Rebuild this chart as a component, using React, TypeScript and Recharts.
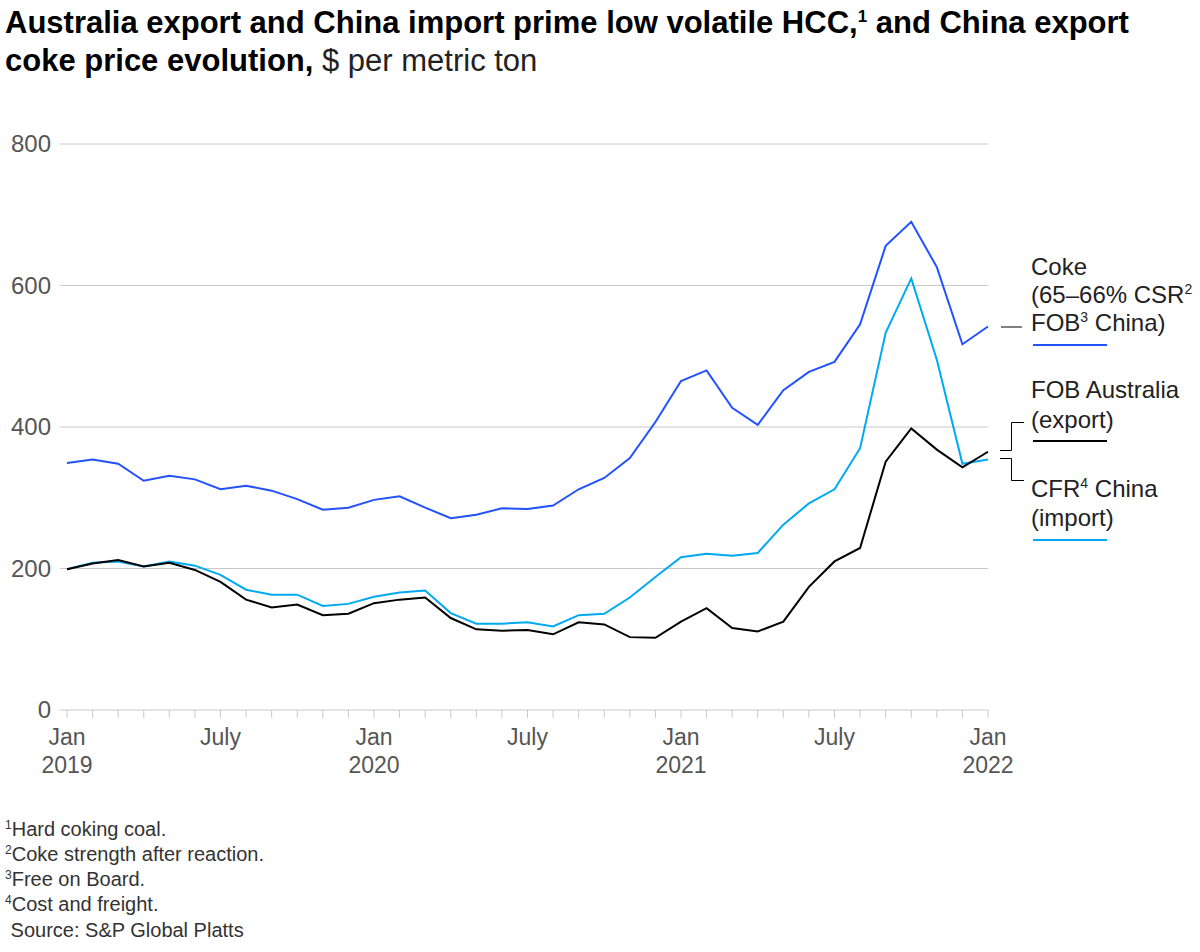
import React from "react";
import { LineChart, Line, XAxis, YAxis, ReferenceLine } from "recharts";

const months = [
  "Jan 2019", "Feb 2019", "Mar 2019", "Apr 2019", "May 2019", "Jun 2019", "Jul 2019", "Aug 2019", "Sep 2019", "Oct 2019", "Nov 2019", "Dec 2019",
  "Jan 2020", "Feb 2020", "Mar 2020", "Apr 2020", "May 2020", "Jun 2020", "Jul 2020", "Aug 2020", "Sep 2020", "Oct 2020", "Nov 2020", "Dec 2020",
  "Jan 2021", "Feb 2021", "Mar 2021", "Apr 2021", "May 2021", "Jun 2021", "Jul 2021", "Aug 2021", "Sep 2021", "Oct 2021", "Nov 2021", "Dec 2021",
  "Jan 2022",
];

const cokeFobChina = [
  349, 354, 348, 324, 331, 326, 312, 317, 310, 298, 283, 286,
  297, 302, 286, 271, 276, 285, 284, 289, 312, 328, 356, 407,
  465, 480, 427, 403, 452, 478, 492, 545, 656, 690, 626, 517,
  542,
];

const fobAustralia = [
  199, 207, 212, 203, 208, 198, 181, 156, 145, 149, 134, 136,
  151, 156, 159, 130, 114, 112, 113, 107, 124, 121, 103, 102,
  125, 144, 116, 111, 125, 174, 210, 229, 351, 398, 368, 343,
  365,
];

const cfrChina = [
  199, 208, 210, 203, 210, 204, 191, 170, 163, 163, 147, 150,
  160, 166, 169, 137, 122, 122, 124, 118, 134, 136, 159, 188,
  216, 221, 218, 222, 262, 292, 312, 370, 533, 610, 495, 348,
  354,
];

const yTicks = [0, 200, 400, 600, 800];

const tickMonths = ["Jan 2019", "Jul 2019", "Jan 2020", "Jul 2020", "Jan 2021", "Jul 2021", "Jan 2022"];
const tickLine1 = ["Jan", "July", "Jan", "July", "Jan", "July", "Jan"];
const tickLine2 = ["2019", "", "2020", "", "2021", "", "2022"];

const data = months.map((m, i) => ({
  month: m,
  coke: cokeFobChina[i],
  fob: fobAustralia[i],
  cfr: cfrChina[i],
}));

const FONT = "'Liberation Sans', Arial, Helvetica, sans-serif";
const BLUE = "#2251FF";
const CYAN = "#00A9F4";
const BLACK = "#000000";
const GRID = "#c8c8c8";
const AXIS_TEXT = "#555555";

const XTick = (props: any) => {
  const { x, y, payload } = props;
  const idx = tickMonths.indexOf(payload.value);
  if (idx < 0) return null;
  return (
    <g>
      <text x={x} y={y} dy={25} textAnchor="middle" fontFamily={FONT} fontSize={23} fill={AXIS_TEXT}>
        {tickLine1[idx]}
      </text>
      {tickLine2[idx] ? (
        <text x={x} y={y} dy={53} textAnchor="middle" fontFamily={FONT} fontSize={23} fill={AXIS_TEXT}>
          {tickLine2[idx]}
        </text>
      ) : null}
    </g>
  );
};

const YTick = (props: any) => {
  const { x, y, payload } = props;
  return (
    <text x={x} y={y} dy={8} textAnchor="end" fontFamily={FONT} fontSize={24} fill={AXIS_TEXT}>
      {payload.value}
    </text>
  );
};

const Sup = ({ n, size, shift }: { n: string; size: number; shift: number }) => (
  <tspan fontSize={size} baselineShift={shift}>{n}</tspan>
);

export default function App() {
  return (
    <div style={{ position: "relative", width: 1200, height: 952, background: "#fff" }}>
      <style>{"body{margin:0;background:#fff}"}</style>
      <div style={{ position: "absolute", left: 0, top: 0 }}>
        <LineChart
          width={1200}
          height={952}
          data={data}
          margin={{ top: 144, right: 212, bottom: 182, left: 0 }}
        >
          <XAxis
            dataKey="month"
            interval={0}
            padding={{ left: 7, right: 0 }}
            axisLine={false}
            tickSize={8}
            tickMargin={2}
            tickLine={{ stroke: GRID, strokeWidth: 1 }}
            tick={<XTick />}
            height={60}
          />
          <YAxis
            domain={[0, 800]}
            ticks={yTicks}
            width={60}
            axisLine={false}
            tickLine={false}
            tickSize={6}
            tickMargin={3}
            tick={<YTick />}
          />
          {yTicks.map((v) => (
            <ReferenceLine key={v} y={v} stroke={GRID} strokeWidth={1} />
          ))}
          <Line type="linear" dataKey="cfr" stroke={CYAN} strokeWidth={2} dot={false} isAnimationActive={false} />
          <Line type="linear" dataKey="fob" stroke={BLACK} strokeWidth={2} dot={false} isAnimationActive={false} />
          <Line type="linear" dataKey="coke" stroke={BLUE} strokeWidth={2} dot={false} isAnimationActive={false} />
        </LineChart>
      </div>
      <svg
        width={1200}
        height={952}
        style={{ position: "absolute", left: 0, top: 0, pointerEvents: "none" }}
        fontFamily={FONT}
      >
        <text x={5} y={33} fontSize={31} fontWeight="bold" fill="#000">
          Australia export and China import prime low volatile HCC,<Sup n="1" size={17} shift={11} /> and China export
        </text>
        <text x={5} y={71} fontSize={31} fill="#000">
          <tspan fontWeight="bold">coke price evolution,</tspan>
          <tspan fill="#222"> $ per metric ton</tspan>
        </text>

        <g fontSize={24} fill="#222">
          <text x={1031} y={275}>Coke</text>
          <text x={1031} y={303}>(65–66% CSR<Sup n="2" size={14} shift={9} /></text>
          <text x={1031} y={331}>FOB<Sup n="3" size={14} shift={9} /> China)</text>
          <text x={1031} y={398}>FOB Australia</text>
          <text x={1031} y={428}>(export)</text>
          <text x={1031} y={497}>CFR<Sup n="4" size={14} shift={9} /> China</text>
          <text x={1031} y={526}>(import)</text>
        </g>
        <line x1={1033} x2={1107} y1={345} y2={345} stroke={BLUE} strokeWidth={2} />
        <line x1={1033} x2={1107} y1={441} y2={441} stroke={BLACK} strokeWidth={2} />
        <line x1={1033} x2={1107} y1={540} y2={540} stroke={CYAN} strokeWidth={2} />

        <g stroke="#000" strokeWidth={1} fill="none">
          <line x1={1001} x2={1022} y1={327} y2={327} />
          <polyline points="1000,450.5 1011.5,450.5 1011.5,422.5 1024,422.5" />
          <polyline points="1000,458.5 1011.5,458.5 1011.5,480.5 1024,480.5" />
        </g>

        <g fontSize={20} fill="#333">
          <text x={5} y={836}><Sup n="1" size={12} shift={7} />Hard coking coal.</text>
          <text x={5} y={861}><Sup n="2" size={12} shift={7} />Coke strength after reaction.</text>
          <text x={5} y={886}><Sup n="3" size={12} shift={7} />Free on Board.</text>
          <text x={5} y={911}><Sup n="4" size={12} shift={7} />Cost and freight.</text>
          <text x={5} y={937}>{"\u00a0Source: S&P Global Platts"}</text>
        </g>
      </svg>
    </div>
  );
}
